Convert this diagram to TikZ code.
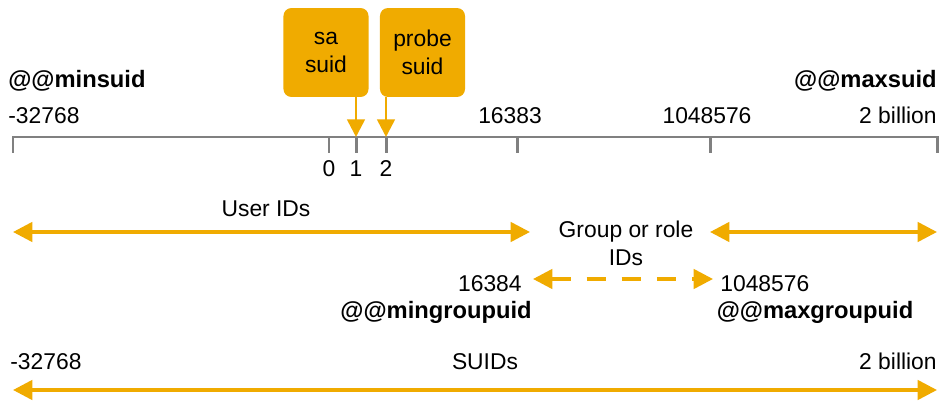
\documentclass[tikz,border=0pt]{standalone}
\usepackage{fontspec}
\setmainfont{Liberation Sans}
\usetikzlibrary{arrows.meta}
\definecolor{idorange}{RGB}{240,171,0}
\definecolor{axisgray}{RGB}{128,128,128}
\tikzset{%
  idbox/.style    = {shape=rectangle, rounded corners=4.5pt, fill=idorange,%
                     align=center, minimum width=48.4pt, minimum height=50.6pt},%
  axisline/.style = {draw=axisgray, line width=1.7pt},%
  idrange/.style  = {draw=idorange, line width=2pt,%
                     {Triangle[length=11pt,width=11pt]}-{Triangle[length=11pt,width=11pt]}},%
  pointer/.style  = {draw=idorange, line width=1.5pt, -{Triangle[length=10pt,width=10pt]}},%
  varname/.style  = {font=\fontsize{13.5}{16}\selectfont\bfseries}%
}

\begin{document}
\begin{tikzpicture}[x=0.02cm,y=-0.02cm,every node/.style={font=\fontsize{13}{16}\selectfont,inner sep=0pt}]
	\useasboundingbox (0,0) rectangle (942,401);
	% number line
	\coordinate (start) at (13,137);
	\coordinate (end) at (937,137);
	\coordinate (zero) at (329,137);
	\coordinate (one) at (356,137);
	\coordinate (two) at (386,137);
	\coordinate (uend) at (517,137);
	\coordinate (gend) at (710,137);
	\draw[axisline] (start) ++(0,16) -- (start) -- (end) -- ++(0,16);
	\foreach \t in {zero,one,two,uend,gend}
		\draw[axisline] (\t) -- ++(0,16);
	\node[anchor=base] (zerolbl) at (329,177) {0};
	\node[anchor=base] (onelbl) at (356,177) {1};
	\node[anchor=base] (twolbl) at (386,177) {2};
	\node[anchor=base west] (minlbl) at (8,124) {-32768};
	\node[anchor=base] (uendlbl) at (510,124) {16383};
	\node[anchor=base] (gendlbl) at (707,124) {1048576};
	\node[anchor=base east] (maxlbl) at (937,124) {2 billion};
	\node[varname,anchor=base west] (minsuid) at (8,88) {@@minsuid};
	\node[varname,anchor=base east] (maxsuid) at (937,88) {@@maxsuid};
	% reserved suids
	\node[idbox] (sa) at (326,52.5) {sa\\suid};
	\node[idbox] (probe) at (422.5,52.5) {probe\\suid};
	\draw[pointer] (sa.south -| one) -- (one);
	\draw[pointer] (probe.south -| two) -- (two);
	% user and group ranges
	\coordinate (uidl) at (13,232);
	\coordinate (uidr) at (530,232);
	\coordinate (gidl) at (710,232);
	\coordinate (gidr) at (937,232);
	\draw[idrange] (uidl) -- (uidr);
	\draw[idrange] (gidl) -- (gidr);
	\node[anchor=base] (uidlbl) at (266,217) {User IDs};
	\node[align=center] (gidlbl) at (626,243) {Group or role\\IDs};
	\coordinate (mingid) at (533,279);
	\coordinate (maxgid) at (713,279);
	\draw[idrange,dash pattern=on 11pt off 9pt] (mingid) -- (maxgid);
	\node[anchor=base east] (mingidlbl) at (522,292) {16384};
	\node[anchor=base west] (maxgidlbl) at (720,292) {1048576};
	\node[varname,anchor=base] (mingroupuid) at (436,319) {@@mingroupuid};
	\node[varname,anchor=base] (maxgroupuid) at (815,319) {@@maxgroupuid};
	% all suids
	\coordinate (suidl) at (13,390);
	\coordinate (suidr) at (937,390);
	\draw[idrange] (suidl) -- (suidr);
	\node[anchor=base west] (suidmin) at (10,370) {-32768};
	\node[anchor=base] (suidlbl) at (485,370) {SUIDs};
	\node[anchor=base east] (suidmax) at (937,370) {2 billion};
\end{tikzpicture}
\end{document}
